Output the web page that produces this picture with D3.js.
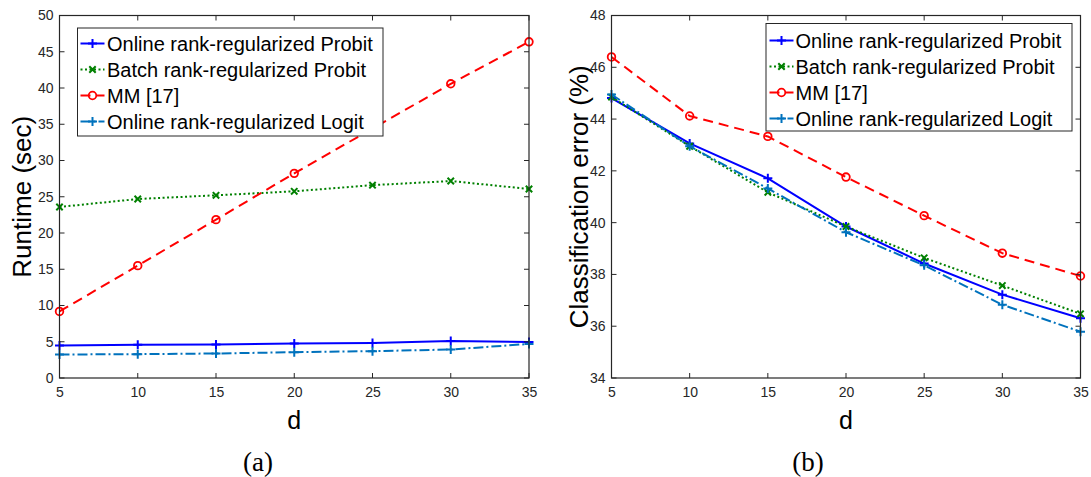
<!DOCTYPE html>
<html>
<head>
<meta charset="utf-8">
<script src="https://cdn.jsdelivr.net/npm/d3@7"></script>
<style>
  html, body { margin: 0; padding: 0; background: #fff; }
  svg { display: block; }
</style>
</head>
<body>
<svg id="chart" width="1091" height="477"></svg>
<script>
// ---------------- DATA ----------------
const dValues = [5, 10, 15, 20, 25, 30, 35];
const seriesNames = [
  "Online rank-regularized Probit",
  "Batch rank-regularized Probit",
  "MM [17]",
  "Online rank-regularized Logit"
];
// (a) Runtime (sec)
const runtimeOnlineProbit = [4.47, 4.57, 4.61, 4.75, 4.84, 5.11, 4.98];
const runtimeBatchProbit  = [23.59, 24.69, 25.2, 25.75, 26.6, 27.17, 26.07];
const runtimeMM           = [9.18, 15.5, 21.84, 28.23, 34.4, 40.58, 46.37];
const runtimeOnlineLogit  = [3.24, 3.29, 3.38, 3.56, 3.7, 3.93, 4.7];
// (b) Classification error (%)
const errorOnlineProbit = [44.81, 43.06, 41.71, 39.85, 38.42, 37.22, 36.31];
const errorBatchProbit  = [44.85, 42.95, 41.17, 39.85, 38.64, 37.57, 36.48];
const errorMM           = [46.40, 44.12, 43.33, 41.76, 40.27, 38.82, 37.94];
const errorOnlineLogit  = [44.95, 42.95, 41.32, 39.63, 38.35, 36.83, 35.79];
// tick labels
const dTicks = [5, 10, 15, 20, 25, 30, 35];
const runtimeTicks = [0, 5, 10, 15, 20, 25, 30, 35, 40, 45, 50];
const errorTicks = [34, 36, 38, 40, 42, 44, 46, 48];

// ---------------- STYLES ----------------
const styles = [
  { color: "#0000ff", dash: null,          marker: "plus",   width: 2 },
  { color: "#008000", dash: "2,2.5",       marker: "x",      width: 2 },
  { color: "#ff0000", dash: "10,6",        marker: "circle", width: 2 },
  { color: "#0072bd", dash: "10,3,2,3",    marker: "plus",   width: 2 }
];
const axisColor = "#262626";
const sans = "'Liberation Sans', Arial, Helvetica, sans-serif";

const svg = d3.select("#chart");

function drawMarker(g, type, x, y, color) {
  if (type === "plus") {
    const s = 4.5;
    g.append("path").attr("d", `M${x - s},${y}H${x + s}M${x},${y - s}V${y + s}`)
      .attr("stroke", color).attr("stroke-width", 2).attr("fill", "none");
  } else if (type === "x") {
    const s = 3.2;
    g.append("path").attr("d", `M${x - s},${y - s}L${x + s},${y + s}M${x - s},${y + s}L${x + s},${y - s}`)
      .attr("stroke", color).attr("stroke-width", 2).attr("fill", "none");
  } else if (type === "circle") {
    g.append("circle").attr("cx", x).attr("cy", y).attr("r", 3.8)
      .attr("stroke", color).attr("stroke-width", 1.8).attr("fill", "none");
  }
}

function drawPanel(cfg) {
  const { left, right, top, bottom, yDomain, yTicks, series, yLabel, yLabelSize, yLabelX, legend, caption, captionX } = cfg;
  const x = d3.scaleLinear().domain([5, 35]).range([left, right]);
  const y = d3.scaleLinear().domain(yDomain).range([bottom, top]);
  const g = svg.append("g");

  // series lines
  series.forEach((vals, i) => {
    const st = styles[i];
    const line = d3.line().x((d, j) => x(dValues[j])).y(d => y(d));
    g.append("path").datum(vals)
      .attr("d", line)
      .attr("fill", "none")
      .attr("stroke", st.color)
      .attr("stroke-width", st.width)
      .attr("stroke-dasharray", st.dash)
      .attr("stroke-linejoin", "round");
    vals.forEach((v, j) => drawMarker(g, st.marker, x(dValues[j]), y(v), st.color));
  });

  // axes (box)
  const tickLen = 5;
  const axB = d3.axisBottom(x).tickValues(dTicks).tickSize(0).tickPadding(0);
  const axL = d3.axisLeft(y).tickValues(yTicks).tickSize(0).tickPadding(0);

  // Frame
  g.append("rect").attr("x", left).attr("y", top).attr("width", right - left).attr("height", bottom - top)
    .attr("fill", "none").attr("stroke", axisColor).attr("stroke-width", 1.2);

  // inward ticks on all four sides
  dTicks.forEach(t => {
    const xx = x(t);
    g.append("line").attr("x1", xx).attr("x2", xx).attr("y1", bottom).attr("y2", bottom - tickLen)
      .attr("stroke", axisColor).attr("stroke-width", 1);
    g.append("line").attr("x1", xx).attr("x2", xx).attr("y1", top).attr("y2", top + tickLen)
      .attr("stroke", axisColor).attr("stroke-width", 1);
  });
  yTicks.forEach(t => {
    const yy = y(t);
    g.append("line").attr("x1", left).attr("x2", left + tickLen).attr("y1", yy).attr("y2", yy)
      .attr("stroke", axisColor).attr("stroke-width", 1);
    g.append("line").attr("x1", right).attr("x2", right - tickLen).attr("y1", yy).attr("y2", yy)
      .attr("stroke", axisColor).attr("stroke-width", 1);
  });

  // tick labels via d3 axes
  const gb = g.append("g").attr("transform", `translate(0,${bottom + 6})`).call(axB);
  gb.select(".domain").remove();
  gb.selectAll("text").attr("font-family", sans).attr("font-size", 14).attr("fill", axisColor)
    .attr("dy", "0.9em");
  const gl = g.append("g").attr("transform", `translate(${left - 6},0)`).call(axL);
  gl.select(".domain").remove();
  gl.selectAll("text").attr("font-family", sans).attr("font-size", 14).attr("fill", axisColor);

  // axis labels
  g.append("text").attr("x", (left + right) / 2).attr("y", 429)
    .attr("text-anchor", "middle").attr("font-family", sans).attr("font-size", 25)
    .attr("fill", "#000").text("d");
  g.append("text")
    .attr("transform", `translate(${yLabelX},${(top + bottom) / 2}) rotate(-90)`)
    .attr("text-anchor", "middle").attr("font-family", sans).attr("font-size", yLabelSize)
    .attr("fill", "#000").text(yLabel);

  // legend
  const lg = g.append("g");
  lg.append("rect").attr("x", legend.x0).attr("y", legend.y0)
    .attr("width", legend.x1 - legend.x0).attr("height", legend.y1 - legend.y0)
    .attr("fill", "#fff").attr("stroke", axisColor).attr("stroke-width", 1);
  seriesNames.forEach((name, i) => {
    const st = styles[i];
    const ry = legend.rows[i];
    lg.append("line").attr("x1", legend.lx0).attr("x2", legend.lx1).attr("y1", ry).attr("y2", ry)
      .attr("stroke", st.color).attr("stroke-width", st.width).attr("stroke-dasharray", st.dash);
    drawMarker(lg, st.marker, (legend.lx0 + legend.lx1) / 2, ry, st.color);
    lg.append("text").attr("x", legend.tx).attr("y", ry).attr("dy", "0.35em")
      .attr("font-family", sans).attr("font-size", 20).attr("fill", "#000").text(name);
  });

  // caption
  svg.append("text").attr("x", captionX).attr("y", 471).attr("text-anchor", "middle")
    .attr("font-family", "'Liberation Serif', 'Times New Roman', serif").attr("font-size", 27)
    .attr("fill", "#000").text(caption);
}

drawPanel({
  left: 59.5, right: 529, top: 15.5, bottom: 378,
  yDomain: [0, 50], yTicks: runtimeTicks,
  series: [runtimeOnlineProbit, runtimeBatchProbit, runtimeMM, runtimeOnlineLogit],
  yLabel: "Runtime (sec)", yLabelSize: 26, yLabelX: 31,
  legend: { x0: 77.5, x1: 383, y0: 28, y1: 136, rows: [43.5, 69.5, 95.5, 121.5], lx0: 80.5, lx1: 104.5, tx: 107 },
  caption: "(a)", captionX: 258
});

drawPanel({
  left: 611.5, right: 1080.5, top: 15.5, bottom: 378,
  yDomain: [34, 48], yTicks: errorTicks,
  series: [errorOnlineProbit, errorBatchProbit, errorMM, errorOnlineLogit],
  yLabel: "Classification error (%)", yLabelSize: 26, yLabelX: 588,
  legend: { x0: 766, x1: 1072, y0: 23.5, y1: 131, rows: [40.5, 66.5, 92.5, 118.5], lx0: 769.5, lx1: 793.5, tx: 795.5 },
  caption: "(b)", captionX: 808
});
</script>
</body>
</html>
